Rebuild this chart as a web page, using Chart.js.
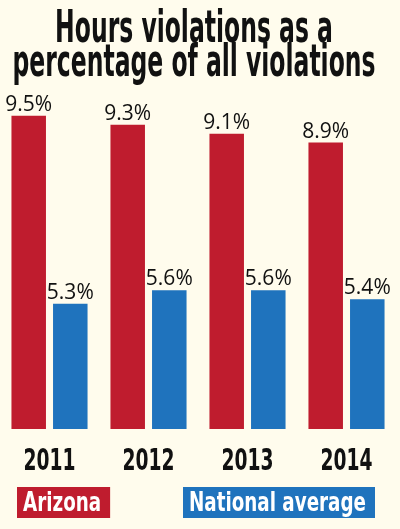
<!DOCTYPE html>
<html>
<head>
<meta charset="utf-8">
<script src="https://cdn.jsdelivr.net/npm/chart.js@4.4.1/dist/chart.umd.min.js"></script>
<style>
  html, body { margin: 0; padding: 0; background: #fffced; }
  #wrap { width: 400px; height: 529px; }
</style>
</head>
<body>
<div id="wrap"><canvas id="chart" width="400" height="529"></canvas></div>
<script>
// values
var years = ["2011", "2012", "2013", "2014"];
var arizona = [9.5, 9.3, 9.1, 8.9];
var national = [5.3, 5.6, 5.6, 5.4];
var seriesNames = ["Arizona", "National average"];
var titleLines = ["Hours violations as a", "percentage of all violations"];

var RED = "#bf1c2e";
var BLUE = "#1f73bd";
var narrow = "'Liberation Sans Narrow', 'DejaVu Sans Condensed', sans-serif";

// draw text squeezed sideways so it takes up the given width
function squeezed(ctx, text, x, y, width) {
  var sx = width / ctx.measureText(text).width;
  ctx.save();
  ctx.translate(x, y);
  ctx.scale(sx, 1);
  ctx.fillText(text, 0, 0);
  ctx.restore();
}

// cream paper behind everything
var paper = {
  id: "paper",
  beforeDraw: function(chart) {
    var ctx = chart.ctx;
    ctx.save();
    ctx.fillStyle = "#fffced";
    ctx.fillRect(0, 0, chart.width, chart.height);
    ctx.restore();
  }
};

// condensed two line headline
var headline = {
  id: "headline",
  afterDraw: function(chart) {
    var ctx = chart.ctx;
    ctx.save();
    ctx.font = "bold 44px " + narrow;
    ctx.fillStyle = "#111";
    ctx.textAlign = "center";
    ctx.textBaseline = "alphabetic";
    var sx = 363 / ctx.measureText(titleLines[1]).width;
    var baselines = [42, 76];
    for (var i = 0; i < titleLines.length; i++) {
      var w = ctx.measureText(titleLines[i]).width * sx;
      squeezed(ctx, titleLines[i], 194, baselines[i], w);
    }
    ctx.restore();
  }
};

// year names under the groups, placed by the x scale
var yearLabels = {
  id: "yearLabels",
  afterDraw: function(chart) {
    var ctx = chart.ctx;
    var xs = chart.scales.x;
    ctx.save();
    ctx.font = "bold 30px " + narrow;
    ctx.fillStyle = "#111";
    ctx.textAlign = "center";
    ctx.textBaseline = "alphabetic";
    var sx = 52 / ctx.measureText("2011").width;
    xs.ticks.forEach(function(t, i) {
      var label = xs.getLabelForValue(t.value);
      squeezed(ctx, label, xs.getPixelForTick(i), 470, ctx.measureText(label).width * sx);
    });
    ctx.restore();
  }
};

// percentage above each bar
var valueLabels = {
  id: "valueLabels",
  afterDatasetsDraw: function(chart) {
    var ctx = chart.ctx;
    ctx.save();
    ctx.font = "21px 'Open Sans', 'Noto Sans', sans-serif";
    ctx.fillStyle = "#111";
    ctx.textAlign = "center";
    ctx.textBaseline = "alphabetic";
    chart.data.datasets.forEach(function(ds, d) {
      var meta = chart.getDatasetMeta(d);
      meta.data.forEach(function(bar, i) {
        ctx.fillText(ds.data[i].toFixed(1) + "%", bar.x, bar.y - 5);
      });
    });
    ctx.restore();
  }
};

// legend: white text inside coloured boxes
var boxLegend = {
  id: "boxLegend",
  afterDraw: function(chart) {
    var ctx = chart.ctx;
    var starts = [17, 183];
    ctx.save();
    ctx.font = "bold 26px " + narrow;
    ctx.textBaseline = "alphabetic";
    ctx.textAlign = "left";
    var sx = 177 / ctx.measureText(seriesNames[1]).width;
    chart.data.datasets.forEach(function(ds, d) {
      var w = ctx.measureText(ds.label).width * sx;
      ctx.fillStyle = ds.backgroundColor;
      ctx.fillRect(starts[d], 487, w + 15, 31);
      ctx.fillStyle = "#fff";
      squeezed(ctx, ds.label, starts[d] + 6, 511, w);
    });
    ctx.restore();
  }
};

var chart = new Chart(document.getElementById("chart"), {
  type: "bar",
  data: {
    labels: years,
    datasets: [
      { label: seriesNames[0], data: arizona, backgroundColor: RED },
      { label: seriesNames[1], data: national, backgroundColor: BLUE }
    ]
  },
  options: {
    responsive: false,
    animation: false,
    devicePixelRatio: 1,
    layout: { padding: { top: 71, bottom: 92, left: -2, right: 4 } },
    datasets: {
      bar: { categoryPercentage: 0.84, barPercentage: 0.83, borderWidth: 0 }
    },
    plugins: {
      legend: { display: false },
      tooltip: { enabled: false },
      title: { display: false }
    },
    scales: {
      x: {
        grid: { display: false },
        border: { display: false },
        ticks: { display: false }
      },
      y: { display: false, min: 2.5, max: 10.5 }
    }
  },
  plugins: [paper, headline, valueLabels, yearLabels, boxLegend]
});
</script>
</body>
</html>
